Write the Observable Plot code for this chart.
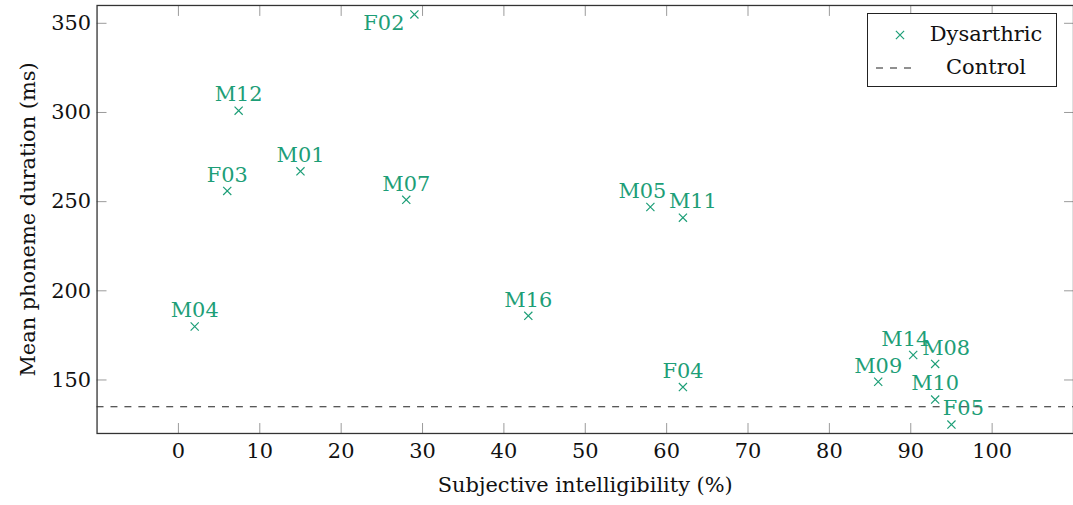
<!DOCTYPE html>
<html>
<head>
<meta charset="utf-8">
<script src="https://cdn.jsdelivr.net/npm/d3@7"></script>
<script src="https://cdn.jsdelivr.net/npm/@observablehq/plot@0.6"></script>
<style>
  html, body { margin: 0; padding: 0; background: #fff; overflow: hidden; }
  #chart { position: relative; width: 1073px; height: 505px; overflow: hidden; }
  #legend {
    position: absolute; left: 867px; top: 13px; width: 190px; height: 74px;
    border: 1.3px solid #222; background: #fff; box-sizing: border-box;
    font-family: "DejaVu Serif", serif; font-size: 21px; color: #111;
  }
  #legend svg { position: absolute; left: 0; top: 0; }
  #legend .row { position: absolute; left: 58px; width: 120px; text-align: center; line-height: 1; }
</style>
</head>
<body>
<div id="chart"></div>
<script>
// Speakers with dysarthria: intelligibility (%) vs. mean phoneme duration (ms)
const speakers = ["F02", "M12", "F03", "M01", "M07", "M05", "M11", "M04", "M16", "F04", "M09", "M14", "M08", "M10", "F05"];
const intelligibility = [29, 7.4, 6, 15, 28, 58, 62, 2, 43, 62, 86, 90.3, 93, 93, 95];
const duration = [355, 301, 256, 267, 251, 247, 241, 180, 186, 146, 149, 164, 159, 139, 125];

// Mean phoneme duration of the control speakers (ms)
const controlDuration = [135];

const xTicks = [0, 10, 20, 30, 40, 50, 60, 70, 80, 90, 100];
const yTicks = [150, 200, 250, 300, 350];

const seriesNames = ["Dysarthric", "Control"];
const xLabel = "Subjective intelligibility (%)";
const yLabel = "Mean phoneme duration (ms)";

const green = "#1d9e77";
const font = "DejaVu Serif";
const fs = 21;

const points = speakers.map((name, i) => ({name, x: intelligibility[i], y: duration[i]}));

// Label placement tweaks so neighbouring names do not collide
const labelPlacement = {
  F02: {dx: -10, dy: 9, textAnchor: "end"},
  M05: {dx: -8},
  M11: {dx: 10},
  M14: {dx: -8},
  M08: {dx: 11},
  F05: {dx: 12}
};

const labelMarks = points.map(p => {
  const o = labelPlacement[p.name] || {};
  return Plot.text([p], {
    x: "x", y: "y", text: "name",
    dx: o.dx ?? 0, dy: o.dy ?? -16,
    textAnchor: o.textAnchor ?? "middle",
    fill: green, fontSize: fs, fontFamily: font
  });
});

const tickStroke = "#9a9a9a";

const chart = Plot.plot({
  width: 1078,
  height: 505,
  marginLeft: 97,
  marginRight: 0,
  marginTop: 5,
  marginBottom: 70,
  style: {fontFamily: font, fontSize: fs + "px", background: "#fff", color: "#111"},
  x: {domain: [-10, 110]},
  y: {domain: [120, 360]},
  marks: [
    // inward tick marks on all four sides
    Plot.axisX(xTicks, {anchor: "bottom", tickSize: -10, tickFormat: () => "", label: null, stroke: tickStroke}),
    Plot.axisX(xTicks, {anchor: "top", tickSize: -10, tickFormat: () => "", label: null, stroke: tickStroke}),
    Plot.axisY(yTicks, {anchor: "left", tickSize: -10, tickFormat: () => "", label: null, stroke: tickStroke}),
    Plot.axisY(yTicks, {anchor: "right", tickSize: -10, tickFormat: () => "", label: null, stroke: tickStroke}),
    // tick labels
    Plot.axisX(xTicks, {anchor: "bottom", tickSize: 0, tickPadding: 10, label: null, fontSize: fs, fontFamily: font, fill: "#111"}),
    Plot.axisY(yTicks, {anchor: "left", tickSize: 0, tickPadding: 6, label: null, fontSize: fs, fontFamily: font, fill: "#111"}),
    // axis titles
    Plot.text([xLabel], {frameAnchor: "bottom", dy: 52, lineAnchor: "middle", textAnchor: "middle", text: d => d, fontSize: fs, fontFamily: font, fill: "#111"}),
    Plot.text([yLabel], {frameAnchor: "left", dx: -69, rotate: -90, lineAnchor: "middle", textAnchor: "middle", text: d => d, fontSize: fs, fontFamily: font, fill: "#111"}),
    // control reference line
    Plot.ruleY(controlDuration, {stroke: "#222", strokeWidth: 1.2, strokeDasharray: "7,7"}),
    // dysarthric speakers
    Plot.dot(points, {x: "x", y: "y", symbol: "times", r: 3.8, stroke: green, strokeWidth: 1.2}),
    ...labelMarks,
    Plot.frame({stroke: "#333", strokeWidth: 1.3})
  ]
});

const host = document.getElementById("chart");
host.appendChild(chart);

// Legend box
const legend = document.createElement("div");
legend.id = "legend";
host.appendChild(legend);
const ls = d3.select(legend).append("svg").attr("width", 190).attr("height", 74);
const timesPath = d3.symbol(d3.symbolTimes, Math.PI * 3.8 * 3.8)();
ls.append("path").attr("d", timesPath).attr("transform", "translate(32,21)")
  .attr("fill", "none").attr("stroke", green).attr("stroke-width", 1.2);
ls.append("line").attr("x1", 8).attr("x2", 48).attr("y1", 54).attr("y2", 54)
  .attr("stroke", "#222").attr("stroke-width", 1.2).attr("stroke-dasharray", "7,7");
seriesNames.forEach((name, i) => {
  const row = document.createElement("div");
  row.className = "row";
  row.style.top = (i === 0 ? 10 : 43) + "px";
  row.textContent = name;
  legend.appendChild(row);
});
</script>
</body>
</html>
